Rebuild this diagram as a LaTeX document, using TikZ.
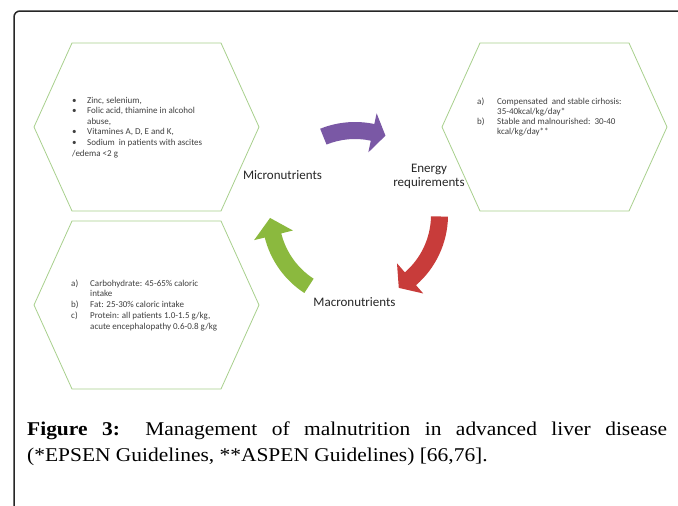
\documentclass[tikz,border=0pt]{standalone}
\usepackage{fontspec}
\setmainfont{Carlito}
\newfontfamily\capfont[FakeStretch=1.1]{Liberation Serif}
\usetikzlibrary{calc}
\definecolor{hexgreen}{RGB}{168,208,141}
\definecolor{arrpurple}{RGB}{122,88,165}
\definecolor{arrred}{RGB}{200,60,58}
\definecolor{arrgreen}{RGB}{139,185,62}
\definecolor{txtgray}{RGB}{64,64,64}
\definecolor{labblack}{RGB}{38,38,38}
\newcommand\cycarrow[4]{%
  \fill[#1] ($(C)+(#2:93)$) arc[start angle=#2,end angle=#3,radius=93]
    -- ($(C)+(#3:104)$) -- ($(C)+(#4:85)$) -- ($(C)+(#3:64)$)
    -- ($(C)+(#3:76)$) arc[start angle=#3,end angle=#2,radius=76] -- cycle;}
\begin{document}
\begin{tikzpicture}[x=1pt,y=1pt,
  hexline/.style={draw=hexgreen, line width=0.8pt},
  hextext/.style={inner sep=0pt, anchor=base west, text=txtgray,
    font=\fontsize{9}{10.6}\selectfont},
  lab/.style={inner sep=0pt, text=labblack, font=\fontsize{13}{14}\selectfont},
  captext/.style={inner sep=0pt, anchor=base west, text=black,
    font=\capfont\fontsize{19.5}{24}\selectfont}]
\useasboundingbox (0,0) rectangle (678,-506);
\clip (0,0) rectangle (678,-506);
\fill[white] (0,0) rectangle (678,-506);
% frame
\draw[line width=1.5pt, draw=black!85, rounded corners=6pt] (14,-540) rectangle (720,-11);
% hexagons
\draw[hexline] (72,-43) -- (221,-43) -- (259,-127) -- (221,-211) -- (72,-211) -- (34,-127) -- cycle;
\draw[hexline] (480,-43) -- (629,-43) -- (667,-127) -- (629,-211) -- (480,-211) -- (442,-127) -- cycle;
\draw[hexline] (72,-221) -- (221,-221) -- (259,-305) -- (221,-389) -- (72,-389) -- (34,-305) -- cycle;
% hexagon texts
\node[hextext] (micro list) at (72,-103) {\begin{tabular}[t]{@{}p{15pt}@{}l@{}}
\textbullet & Zinc, selenium,\\
\textbullet & Folic acid, thiamine in alcohol\\
 & abuse,\\
\textbullet & Vitamines A, D, E and K,\\
\textbullet & Sodium\ \ in patients with ascites\\
\multicolumn{2}{@{}l@{}}{/edema <2 g}
\end{tabular}};
\node[hextext, font=\fontsize{9}{10.2}\selectfont] (energy list) at (477,-104) {\begin{tabular}[t]{@{}p{20pt}@{}l@{}}
a) & Compensated\ \ and stable cirhosis:\\
 & 35-40kcal/kg/day*\\
b) & Stable and malnourished:\ \ 30-40\\
 & kcal/kg/day**
\end{tabular}};
\node[hextext, font=\fontsize{9}{10.8}\selectfont] (macro list) at (71,-286) {\begin{tabular}[t]{@{}p{19pt}@{}l@{}}
a) & Carbohydrate: 45-65\% caloric\\
 & intake\\
b) & Fat: 25-30\% caloric intake\\
c) & Protein: all patients 1.0-1.5 g/kg,\\
 & acute encephalopathy 0.6-0.8 g/kg
\end{tabular}};
% cycle arrows
\coordinate (C) at (355,-215);
\cycarrow{arrpurple}{112}{78}{69}
\cycarrow{arrred}{-1}{-49}{-59}
\cycarrow{arrgreen}{-123}{-166}{-178}
% labels
\node[lab, anchor=base] (micro) at (282.5,-179.5) {Micronutrients};
\node[lab, align=center] (energy) at (429,-176.5) {Energy\\requirements};
\node[lab, anchor=base] (macro) at (354.5,-306.5) {Macronutrients};
% caption
\node[captext] (cap1) at (27,-435) {\makebox[640pt][s]{\textbf{Figure 3:} Management of malnutrition in advanced liver disease}};
\node[captext] (cap2) at (27,-461) {(*EPSEN Guidelines, **ASPEN Guidelines) [66,76].};
\end{tikzpicture}
\end{document}
